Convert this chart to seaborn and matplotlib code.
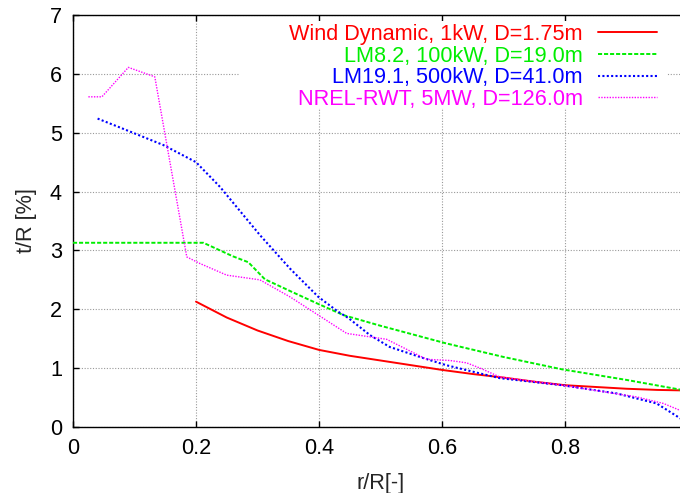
import numpy as np
import pandas as pd
import matplotlib
matplotlib.use("Agg")
import matplotlib.pyplot as plt
from matplotlib.patches import Rectangle
import seaborn as sns

# values
red_r = [0.2, 0.25, 0.3, 0.35, 0.4, 0.45, 0.5, 0.55, 0.6, 0.65, 0.7, 0.75, 0.8, 0.85, 0.9, 0.95, 1.0]
red_t = [2.13, 1.86, 1.64, 1.46, 1.31, 1.21, 1.13, 1.05, 0.97, 0.90, 0.84, 0.77, 0.71, 0.68, 0.65, 0.63, 0.62]

green_r = [0.0, 0.212, 0.26, 0.285, 0.312, 0.353, 0.399, 0.44, 0.5, 0.607, 0.7, 0.795, 0.9, 0.99]
green_t = [3.13, 3.13, 2.90, 2.80, 2.51, 2.31, 2.09, 1.90, 1.72, 1.42, 1.19, 0.98, 0.80, 0.63]

blue_r = [0.04, 0.076, 0.147, 0.2, 0.239, 0.304, 0.353, 0.399, 0.431, 0.448, 0.483, 0.515,
          0.57, 0.607, 0.662, 0.694, 0.795, 0.884, 0.949, 0.99]
blue_t = [5.24, 5.09, 4.79, 4.50, 4.08, 3.26, 2.69, 2.21, 1.96, 1.85, 1.56, 1.36,
          1.17, 1.05, 0.91, 0.83, 0.71, 0.57, 0.40, 0.13]

magenta_r = [0.025, 0.047, 0.09, 0.133, 0.185, 0.206, 0.25, 0.304, 0.353, 0.399, 0.445, 0.51,
             0.575, 0.613, 0.64, 0.662, 0.694, 0.795, 0.917, 0.96, 0.99]
magenta_t = [5.61, 5.61, 6.11, 5.95, 2.89, 2.78, 2.58, 2.50, 2.21, 1.90, 1.59, 1.49,
             1.15, 1.13, 1.09, 1.00, 0.85, 0.71, 0.51, 0.40, 0.27]

labels = ["Wind Dynamic, 1kW, D=1.75m", "LM8.2, 100kW, D=19.0m",
          "LM19.1, 500kW, D=41.0m", "NREL-RWT, 5MW, D=126.0m"]
colors = ["#ff0000", "#00ee00", "#0000ff", "#ff00ff"]

xticks = [0, 0.2, 0.4, 0.6, 0.8, 1.0]
xtick_labels = ["0", "0.2", "0.4", "0.6", "0.8", "1"]
yticks = [0, 1, 2, 3, 4, 5, 6, 7]

sns.set_style("ticks")
plt.rcParams["font.family"] = ["Liberation Sans", "DejaVu Sans"]
plt.rcParams["font.size"] = 15.6

fig = plt.figure(figsize=(6.8, 4.93), dpi=100)
ax = fig.add_axes([73 / 680, 66 / 493, 615 / 680, 412 / 493])

series = [(red_r, red_t), (green_r, green_t), (blue_r, blue_t), (magenta_r, magenta_t)]
styles = ["-", (0, (2.1, 1.0)), (0, (1, 1.1)), (0, (1, 1))]
widths = [1.4, 1.4, 1.5, 1.0]

for (r, t), lab, c, ls, lw in zip(series, labels, colors, styles, widths):
    df = pd.DataFrame({"r": r, "t": t})
    sns.lineplot(data=df, x="r", y="t", ax=ax, color=c, linestyle=ls,
                 linewidth=lw, label=lab, estimator=None, sort=False, zorder=3)

ax.set_xlim(0, 1)
ax.set_ylim(0, 7)
ax.set_xticks(xticks)
ax.set_xticklabels(xtick_labels)
ax.set_yticks(yticks)
ax.set_xlabel("r/R[-]", labelpad=10)
ax.set_ylabel("t/R [%]", labelpad=9)

ax.grid(True, color="#999999", linestyle=(0, (1, 1.5)), linewidth=0.8)
ax.tick_params(direction="in", top=True, right=True, length=4.5, width=1,
               colors="black", pad=8)
for s in ax.spines.values():
    s.set_linewidth(1.0)
    s.set_color("black")

# white key box hiding the grid, like gnuplot
ax.add_patch(Rectangle((0.2715, 0.774), 0.695, 0.212, transform=ax.transAxes,
                       facecolor="white", edgecolor="none", zorder=2))

leg = ax.legend(loc="upper right", bbox_to_anchor=(0.9496, 0.978), frameon=False,
                markerfirst=False, labelcolor="linecolor", handlelength=2.72,
                handletextpad=0.7, labelspacing=0.03, borderpad=0, borderaxespad=0)

fig.savefig("out.png", dpi=100)
